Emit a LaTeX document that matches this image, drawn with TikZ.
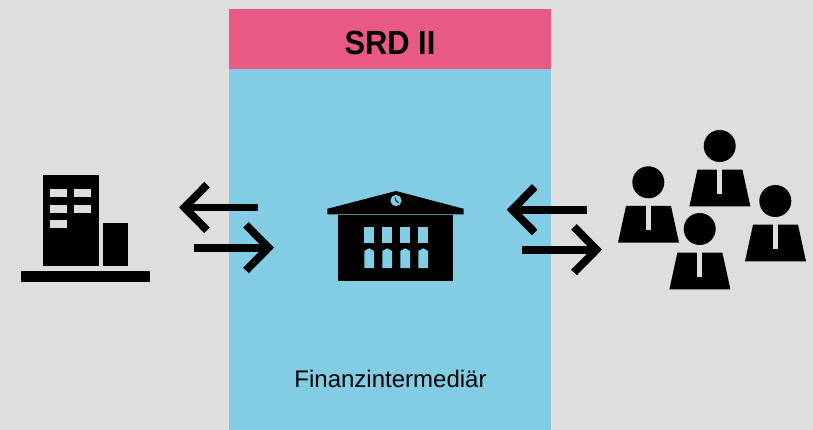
\documentclass[tikz,border=0pt]{standalone}
\usepackage{fontspec}
\setmainfont{Liberation Sans}
\definecolor{bggrey}{HTML}{DEDEDE}
\definecolor{skyblue}{HTML}{82CDE3}
\definecolor{srdpink}{HTML}{E95985}
\tikzset{
  x=1pt,y=-1pt,
  flow/.style={line width=7.8pt,draw=black,line join=miter,line cap=butt,miter limit=10},
  person/.pic={
    \fill[black] (0,0) circle (16);
    \fill[black] (-22.3,23.7) -- (22.7,23.7) -- (30.7,60.4) -- (-30.3,60.4) -- cycle;
    \fill[bggrey] (-2.4,23.2) rectangle (2.6,47.8);
  }
}
\begin{document}
\begin{tikzpicture}
\useasboundingbox (0,0) rectangle (813,430);
\fill[bggrey] (0,0) rectangle (813,430);
\fill[skyblue] (229,69) rectangle (551,430);
\fill[srdpink] (229,9) rectangle (551,69);
\node[font=\bfseries\fontsize{33.5}{36}\selectfont,inner sep=0pt,anchor=base] (title) at (390,55) {\scalebox{0.92}[1]{SRD II}};
\node[font=\fontsize{24}{28}\selectfont,inner sep=0pt,anchor=base] (label) at (390.5,387.7) {Finanzintermediär};
% company building
\fill[black] (42.7,175.3) rectangle (98.7,266);
\fill[black] (103,223) rectangle (128,266);
\fill[black] (21,271) rectangle (150,282);
\foreach \wx/\wy in {50.3/188.7,74.3/188.7,50.3/204.8,74.3/204.8,50.3/220.4}
  \fill[bggrey] (\wx,\wy) rectangle ++(16.4,8);
% bank
\fill[black] (396,191) -- (463.7,208.8) -- (463.7,214.3) -- (327.3,214.3) -- (327.3,208.8) -- cycle;
\fill[black] (338.3,215.4) rectangle (452.7,281.3);
\fill[skyblue] (396,200.5) circle (5.6);
\draw[black,line width=0.9pt] (395.2,197.6) -- (396,200.5) -- (398.6,202.8);
\foreach \wx in {364.3,382.3,400.3,418.3}{
  \fill[skyblue] (\wx,227.3) rectangle ++(9.8,15.7);
  \fill[skyblue] (\wx,268) -- ++(0,-17) -- ++(4.9,-2.7) -- ++(4.9,2.7) -- ++(0,17) -- cycle;
}
% arrows: start of shaft, and vertex of the head
\coordinate (a1s) at (258,207.5); \coordinate (a1e) at (184.5,207.5);
\coordinate (a2s) at (194,247.7); \coordinate (a2e) at (268.5,247.7);
\coordinate (a3s) at (586.7,209.7); \coordinate (a3e) at (512.2,209.7);
\coordinate (a4s) at (522.3,249.7); \coordinate (a4e) at (596.5,249.7);
\foreach \s/\e/\d in {a1s/a1e/1,a2s/a2e/-1,a3s/a3e/1,a4s/a4e/-1}{
  \draw[flow] (\s) -- (\e);
  \draw[flow] (\e) +(\d*22.5,-22.8) -- (\e) -- +(\d*22.5,22.8);
}
% people
\pic at (648.3,182.3) {person};
\pic at (719.7,146) {person};
\pic at (775.3,201) {person};
\pic at (699.7,229) {person};
\end{tikzpicture}
\end{document}
